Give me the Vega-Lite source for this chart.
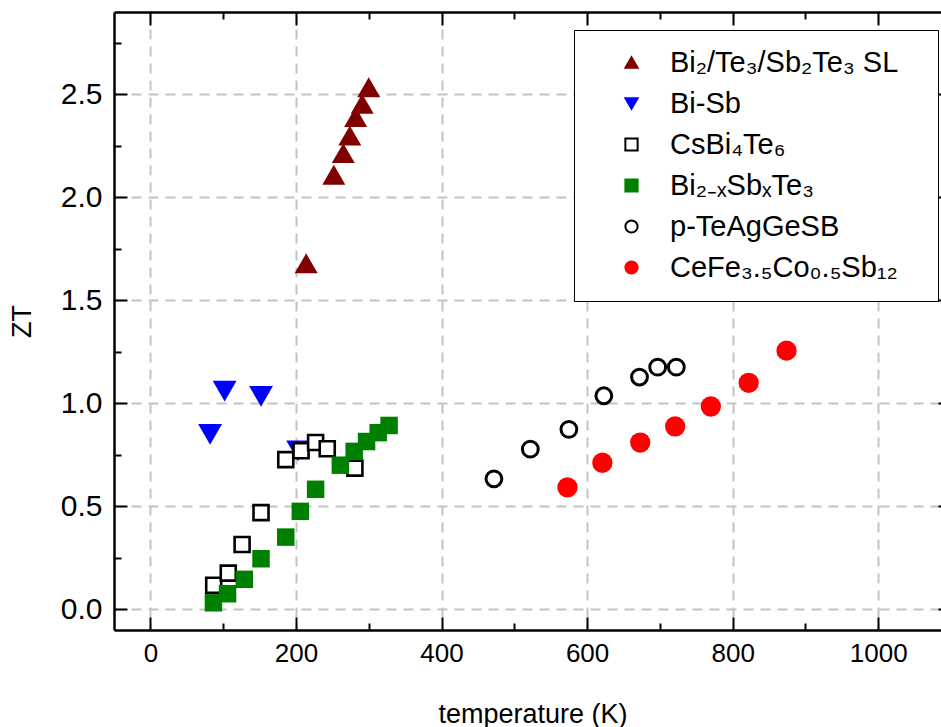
{
  "$schema": "https://vega.github.io/schema/vega-lite/v6.json",
  "width": 837,
  "height": 618,
  "autosize": {"type": "none"},
  "padding": {"left": 114, "top": 12, "right": -10, "bottom": 97},
  "background": "white",
  "config": {
    "view": {"stroke": null},
    "font": "Liberation Sans",
    "axis": {"tickColor": "black", "tickWidth": 2, "domainColor": "black", "domainWidth": 2.5},
    "legend": {
      "orient": "none",
      "legendX": 460,
      "legendY": 18,
      "labelFontSize": 29,
      "labelFont": "Liberation Sans",
      "labelColor": "black",
      "labelLimit": 400,
      "symbolSize": 150,
      "symbolStrokeWidth": 2,
      "rowPadding": 11,
      "padding": 18,
      "symbolOffset": 25,
      "labelOffset": 24,
      "strokeColor": "black",
      "fillColor": "white",
      "cornerRadius": 0
    }
  },
  "data": {
    "values": [
      {"series": "Bi₂/Te₃/Sb₂Te₃ SL", "T": 214, "ZT": 1.68},
      {"series": "Bi₂/Te₃/Sb₂Te₃ SL", "T": 252, "ZT": 2.11},
      {"series": "Bi₂/Te₃/Sb₂Te₃ SL", "T": 265, "ZT": 2.215},
      {"series": "Bi₂/Te₃/Sb₂Te₃ SL", "T": 274, "ZT": 2.3},
      {"series": "Bi₂/Te₃/Sb₂Te₃ SL", "T": 282, "ZT": 2.39},
      {"series": "Bi₂/Te₃/Sb₂Te₃ SL", "T": 291, "ZT": 2.455},
      {"series": "Bi₂/Te₃/Sb₂Te₃ SL", "T": 300, "ZT": 2.535},
      {"series": "Bi-Sb", "T": 82, "ZT": 0.85},
      {"series": "Bi-Sb", "T": 102, "ZT": 1.06},
      {"series": "Bi-Sb", "T": 152, "ZT": 1.034},
      {"series": "Bi-Sb", "T": 203, "ZT": 0.77},
      {"series": "CsBi₄Te₆", "T": 87, "ZT": 0.117},
      {"series": "CsBi₄Te₆", "T": 107, "ZT": 0.176},
      {"series": "CsBi₄Te₆", "T": 126, "ZT": 0.315},
      {"series": "CsBi₄Te₆", "T": 152, "ZT": 0.47},
      {"series": "CsBi₄Te₆", "T": 186, "ZT": 0.727},
      {"series": "CsBi₄Te₆", "T": 207, "ZT": 0.77},
      {"series": "CsBi₄Te₆", "T": 227, "ZT": 0.81},
      {"series": "CsBi₄Te₆", "T": 243, "ZT": 0.78},
      {"series": "CsBi₄Te₆", "T": 281, "ZT": 0.686},
      {"series": "Bi₂₋ₓSbₓTe₃", "T": 86.6, "ZT": 0.032},
      {"series": "Bi₂₋ₓSbₓTe₃", "T": 106, "ZT": 0.076},
      {"series": "Bi₂₋ₓSbₓTe₃", "T": 129, "ZT": 0.146},
      {"series": "Bi₂₋ₓSbₓTe₃", "T": 152, "ZT": 0.246},
      {"series": "Bi₂₋ₓSbₓTe₃", "T": 186, "ZT": 0.351},
      {"series": "Bi₂₋ₓSbₓTe₃", "T": 206, "ZT": 0.476},
      {"series": "Bi₂₋ₓSbₓTe₃", "T": 227, "ZT": 0.583},
      {"series": "Bi₂₋ₓSbₓTe₃", "T": 261, "ZT": 0.7},
      {"series": "Bi₂₋ₓSbₓTe₃", "T": 280, "ZT": 0.767},
      {"series": "Bi₂₋ₓSbₓTe₃", "T": 297, "ZT": 0.815},
      {"series": "Bi₂₋ₓSbₓTe₃", "T": 313, "ZT": 0.858},
      {"series": "Bi₂₋ₓSbₓTe₃", "T": 328, "ZT": 0.893},
      {"series": "p-TeAgGeSB", "T": 472, "ZT": 0.634},
      {"series": "p-TeAgGeSB", "T": 522, "ZT": 0.778},
      {"series": "p-TeAgGeSB", "T": 575, "ZT": 0.874},
      {"series": "p-TeAgGeSB", "T": 623, "ZT": 1.037},
      {"series": "p-TeAgGeSB", "T": 672, "ZT": 1.128},
      {"series": "p-TeAgGeSB", "T": 697, "ZT": 1.176},
      {"series": "p-TeAgGeSB", "T": 722.6, "ZT": 1.176},
      {"series": "CeFe₃.₅Co₀.₅Sb₁₂", "T": 573, "ZT": 0.592},
      {"series": "CeFe₃.₅Co₀.₅Sb₁₂", "T": 621, "ZT": 0.712},
      {"series": "CeFe₃.₅Co₀.₅Sb₁₂", "T": 673, "ZT": 0.81},
      {"series": "CeFe₃.₅Co₀.₅Sb₁₂", "T": 721, "ZT": 0.888},
      {"series": "CeFe₃.₅Co₀.₅Sb₁₂", "T": 770, "ZT": 0.985},
      {"series": "CeFe₃.₅Co₀.₅Sb₁₂", "T": 822, "ZT": 1.1},
      {"series": "CeFe₃.₅Co₀.₅Sb₁₂", "T": 874, "ZT": 1.256}
    ]
  },
  "encoding": {
    "shape": {
      "field": "series", "type": "nominal",
      "scale": {
        "domain": ["Bi₂/Te₃/Sb₂Te₃ SL", "Bi-Sb", "CsBi₄Te₆", "Bi₂₋ₓSbₓTe₃", "p-TeAgGeSB", "CeFe₃.₅Co₀.₅Sb₁₂"],
        "range": ["triangle-up", "triangle-down", "square", "square", "circle", "circle"]
      },
      "legend": {"title": null, "labelExpr": "datum.label + '\u2800'"}
    },
    "fill": {
      "field": "series", "type": "nominal",
      "scale": {
        "domain": ["Bi₂/Te₃/Sb₂Te₃ SL", "Bi-Sb", "CsBi₄Te₆", "Bi₂₋ₓSbₓTe₃", "p-TeAgGeSB", "CeFe₃.₅Co₀.₅Sb₁₂"],
        "range": ["#800000", "#0000ff", "#ffffff", "#008000", "#ffffff", "#ff0000"]
      },
      "legend": {"title": null, "labelExpr": "datum.label + '\u2800'"}
    },
    "stroke": {
      "field": "series", "type": "nominal",
      "scale": {
        "domain": ["Bi₂/Te₃/Sb₂Te₃ SL", "Bi-Sb", "CsBi₄Te₆", "Bi₂₋ₓSbₓTe₃", "p-TeAgGeSB", "CeFe₃.₅Co₀.₅Sb₁₂"],
        "range": ["#800000", "#0000ff", "#000000", "#008000", "#000000", "#ff0000"]
      },
      "legend": {"title": null, "labelExpr": "datum.label + '\u2800'"}
    }
  },
  "layer": [
    {
      "transform": [{"filter": "datum.series === 'Bi₂/Te₃/Sb₂Te₃ SL'"}],
      "mark": {"type": "point", "opacity": 1, "size": 530, "strokeWidth": 0},
      "encoding": {
        "x": {
          "field": "T", "type": "quantitative",
          "scale": {"domain": [-50, 1100], "nice": false, "zero": false},
          "axis": {
            "orient": "bottom",
            "title": "temperature (K)",
            "values": [0, 200, 400, 600, 800, 1000],
            "format": "d",
            "ticks": false,
            "grid": true, "gridDash": [10, 7], "gridColor": "#c4c4c4", "gridWidth": 2,
            "labelFont": "Liberation Sans", "labelFontSize": 26, "labelColor": "black",
            "labelPadding": 10,
            "titleFont": "Liberation Sans", "titleFontSize": 27, "titleFontWeight": "normal",
            "titleColor": "black", "titlePadding": 35
          }
        },
        "y": {
          "field": "ZT", "type": "quantitative",
          "scale": {"domain": [-0.1, 2.9], "nice": false, "zero": false},
          "axis": {
            "orient": "left",
            "title": "ZT",
            "values": [0, 0.5, 1, 1.5, 2, 2.5],
            "format": ".1f",
            "ticks": false,
            "grid": true, "gridDash": [10, 7], "gridColor": "#c4c4c4", "gridWidth": 2,
            "labelFont": "Liberation Sans", "labelFontSize": 30, "labelColor": "black",
            "labelPadding": 12,
            "titleFont": "Liberation Sans", "titleFontSize": 27, "titleFontWeight": "normal",
            "titleColor": "black", "titlePadding": 24
          }
        }
      }
    },
    {
      "transform": [{"filter": "datum.series === 'Bi-Sb'"}],
      "mark": {"type": "point", "opacity": 1, "size": 570, "strokeWidth": 0},
      "encoding": {
        "x": {"field": "T", "type": "quantitative", "axis": null},
        "y": {"field": "ZT", "type": "quantitative", "axis": null}
      }
    },
    {
      "transform": [{"filter": "datum.series === 'CsBi₄Te₆'"}],
      "mark": {"type": "point", "opacity": 1, "size": 225, "strokeWidth": 2.6},
      "encoding": {
        "x": {"field": "T", "type": "quantitative", "axis": null},
        "y": {"field": "ZT", "type": "quantitative", "axis": null}
      }
    },
    {
      "transform": [{"filter": "datum.series === 'Bi₂₋ₓSbₓTe₃'"}],
      "mark": {"type": "point", "opacity": 1, "size": 306, "strokeWidth": 0},
      "encoding": {
        "x": {"field": "T", "type": "quantitative", "axis": null},
        "y": {"field": "ZT", "type": "quantitative", "axis": null}
      }
    },
    {
      "transform": [{"filter": "datum.series === 'p-TeAgGeSB'"}],
      "mark": {"type": "point", "opacity": 1, "size": 250, "strokeWidth": 3},
      "encoding": {
        "x": {"field": "T", "type": "quantitative", "axis": null},
        "y": {"field": "ZT", "type": "quantitative", "axis": null}
      }
    },
    {
      "transform": [{"filter": "datum.series === 'CeFe₃.₅Co₀.₅Sb₁₂'"}],
      "mark": {"type": "point", "opacity": 1, "size": 412, "strokeWidth": 0},
      "encoding": {
        "x": {"field": "T", "type": "quantitative", "axis": null},
        "y": {"field": "ZT", "type": "quantitative", "axis": null}
      }
    },
    {
      "mark": {"type": "point", "opacity": 0},
      "encoding": {
        "x": {"field": "T", "type": "quantitative",
          "axis": {"orient": "bottom", "title": null, "labels": false, "grid": false, "domain": false,
            "values": [0, 200, 400, 600, 800, 1000], "offset": -13, "tickSize": 13}},
        "y": {"field": "ZT", "type": "quantitative",
          "axis": {"orient": "left", "title": null, "labels": false, "grid": false, "domain": false,
            "values": [0, 0.5, 1, 1.5, 2, 2.5], "offset": -13, "tickSize": 13}}
      }
    },
    {
      "mark": {"type": "point", "opacity": 0},
      "encoding": {
        "x": {"field": "T", "type": "quantitative",
          "axis": {"orient": "bottom", "title": null, "labels": false, "grid": false, "domain": false,
            "values": [100, 300, 500, 700, 900], "offset": -7, "tickSize": 7}},
        "y": {"field": "ZT", "type": "quantitative",
          "axis": {"orient": "left", "title": null, "labels": false, "grid": false, "domain": false,
            "values": [0.25, 0.75, 1.25, 1.75, 2.25, 2.75], "offset": -7, "tickSize": 7}}
      }
    },
    {
      "mark": {"type": "point", "opacity": 0},
      "encoding": {
        "x": {"field": "T", "type": "quantitative",
          "axis": {"orient": "top", "title": null, "labels": false, "grid": false, "ticks": false, "domain": true}},
        "y": {"field": "ZT", "type": "quantitative",
          "axis": {"orient": "right", "title": null, "labels": false, "grid": false, "ticks": false, "domain": true}}
      }
    },
    {
      "mark": {"type": "point", "opacity": 0},
      "encoding": {
        "x": {"field": "T", "type": "quantitative",
          "axis": {"orient": "top", "title": null, "labels": false, "grid": false, "domain": false,
            "values": [0, 200, 400, 600, 800, 1000], "offset": -13, "tickSize": 13}},
        "y": {"field": "ZT", "type": "quantitative",
          "axis": {"orient": "right", "title": null, "labels": false, "grid": false, "domain": false,
            "values": [0, 0.5, 1, 1.5, 2, 2.5], "offset": -13, "tickSize": 13}}
      }
    },
    {
      "mark": {"type": "point", "opacity": 0},
      "encoding": {
        "x": {"field": "T", "type": "quantitative",
          "axis": {"orient": "top", "title": null, "labels": false, "grid": false, "domain": false,
            "values": [100, 300, 500, 700, 900], "offset": -7, "tickSize": 7}},
        "y": {"field": "ZT", "type": "quantitative",
          "axis": {"orient": "right", "title": null, "labels": false, "grid": false, "domain": false,
            "values": [0.25, 0.75, 1.25, 1.75, 2.25, 2.75], "offset": -7, "tickSize": 7}}
      }
    }
  ],
  "resolve": {"axis": {"x": "independent", "y": "independent"}}
}
